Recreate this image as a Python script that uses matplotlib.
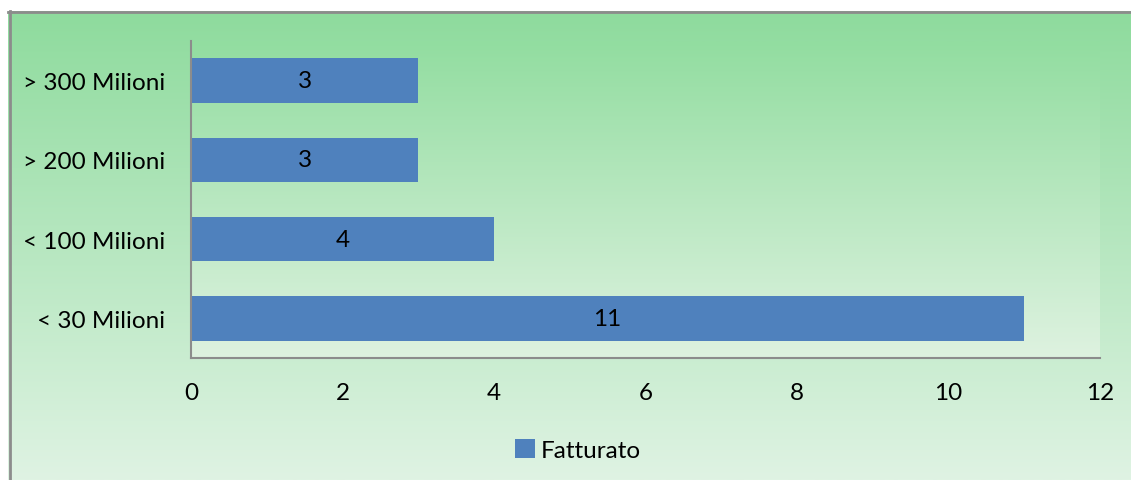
'''
Horizontal bar chart of companies by turnover band
'''

###########################################
import numpy as np
import matplotlib.pyplot as plt
import matplotlib.colors as mcolors


###########################################
# data

categories=['< 30 Milioni','< 100 Milioni','> 200 Milioni','> 300 Milioni']
values=[11,4,3,3]
seriesName='Fatturato'
xTicks=[0,2,4,6,8,10,12]


###########################################
# helpers

def vGradient(top,bottom,n=256):
  '''vertical colour ramp, top row first'''
  cmap=mcolors.LinearSegmentedColormap.from_list('g',[top,bottom])
  return cmap(np.linspace(0,1,n))[:,None,:]


###########################################
# the main block

if __name__ == '__main__':
  plt.rcParams['font.family']=['Lato','DejaVu Sans']
  fSize=17.5

  fig=plt.figure(figsize=(11.31,4.81),dpi=100,facecolor='white')

  # chart area background with border
  bg=fig.add_axes([8/1131,0,1-8/1131,1-12/481])
  bg.imshow(vGradient('#8edb9d','#dff3e3'),aspect='auto',extent=[0,1,0,1])
  bg.set_xlim(0,1)
  bg.set_ylim(0,1)
  bg.set_xticks([])
  bg.set_yticks([])
  for s in bg.spines.values():
    s.set_visible(False)
  bg.plot([0.0015,0.0015],[0,1],color='#8c8c8c',lw=2,clip_on=False)
  bg.plot([0,1],[0.998,0.998],color='#8c8c8c',lw=2,clip_on=False)

  # plot area
  ax=fig.add_axes([191/1131,1-359/481,909/1131,317/481])
  ax.set_zorder(2)
  ax.patch.set_visible(False)
  ax.imshow(vGradient('#92dda0','#def2e0'),aspect='auto',
            extent=[0,12,-0.5,3.5],zorder=0)

  y=np.arange(len(categories))
  bars=ax.barh(y,values,height=0.56,color='#4f81bd',zorder=2,label=seriesName)
  for b,v in zip(bars,values):
    ax.text(v/2.0,b.get_y()+b.get_height()/2.0,str(v),ha='center',va='center',
            fontsize=fSize,color='black',zorder=3)

  ax.set_xlim(0,12)
  ax.set_ylim(-0.5,3.5)
  ax.set_xticks(xTicks)
  ax.set_yticks(y)
  ax.set_yticklabels(categories)
  ax.tick_params(axis='both',length=0,labelsize=fSize,colors='black')
  ax.tick_params(axis='x',pad=17.5)
  ax.tick_params(axis='y',pad=18.5)
  for k in ['top','right']:
    ax.spines[k].set_visible(False)
  for k in ['left','bottom']:
    ax.spines[k].set_color('#8c8c8c')
    ax.spines[k].set_linewidth(1.5)

  # legend at the bottom
  leg=fig.legend(handles=[bars],labels=[seriesName],loc='center',
                 bbox_to_anchor=(578/1131,1-451/481),frameon=False,
                 fontsize=fSize,handlelength=0.8,handleheight=0.8,
                 handletextpad=0.25)

  plt.savefig('out.png',dpi=100,facecolor='white')
  plt.close()
